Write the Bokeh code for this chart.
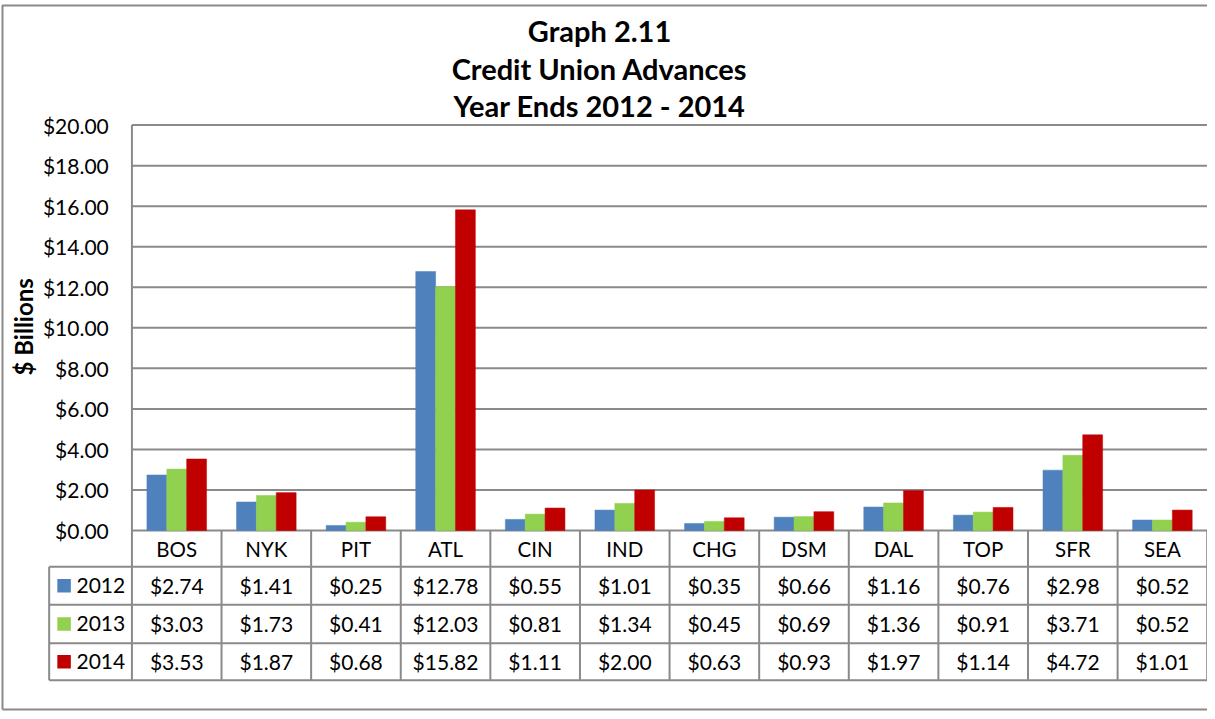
import numpy as np
from bokeh.plotting import figure
from bokeh.models import Range1d
from bokeh.core.properties import value
from bokeh.embed import file_html
from bokeh.resources import INLINE

# ---------------- data ----------------
categories = ["BOS", "NYK", "PIT", "ATL", "CIN", "IND", "CHG", "DSM", "DAL", "TOP", "SFR", "SEA"]
years = ["2012", "2013", "2014"]
v2012 = [2.74, 1.41, 0.25, 12.78, 0.55, 1.01, 0.35, 0.66, 1.16, 0.76, 2.98, 0.52]
v2013 = [3.03, 1.73, 0.41, 12.03, 0.81, 1.34, 0.45, 0.69, 1.36, 0.91, 3.71, 0.52]
v2014 = [3.53, 1.87, 0.68, 15.82, 1.11, 2.00, 0.63, 0.93, 1.97, 1.14, 4.72, 1.01]
series = [v2012, v2013, v2014]
colors = ["#4F81BD", "#92D050", "#C00000"]
y_ticks = [0, 2, 4, 6, 8, 10, 12, 14, 16, 18, 20]
y_tick_labels = ["$%.2f" % t for t in y_ticks]
title_lines = ["Graph 2.11", "Credit Union Advances", "Year Ends 2012 - 2014"]
y_label = "$ Billions"

# ---------------- layout helpers (reference pixels -> data units) ----------------
FIG_W, FIG_H = 1207, 711
REF_W, REF_H = 1215, 719
X0, W = 132.3, 90.2            # left of first category, category width (ref px)
Y0, H = 536.0, 20.5            # y of zero line, ref px per $1


def dx(px):
    return (px - X0) / W


def dy(py):
    return (Y0 - py) / H


FONT = value("Lato")
GRID = "#8A8A8A"

p = figure(width=FIG_W, height=FIG_H, output_backend="svg", toolbar_location=None,
           x_range=Range1d(dx(0), dx(REF_W)), y_range=Range1d(dy(REF_H), dy(0)),
           x_axis_type=None, y_axis_type=None, min_border=0,
           outline_line_color=None, background_fill_color="white", border_fill_color="white")
p.grid.visible = False

# outer chart border
p.multi_line(xs=[[dx(2), dx(2), dx(1300)], [dx(2), dx(1300)]],
             ys=[[dy(717), dy(5), dy(5)], [dy(717), dy(717)]],
             line_color="#8A8A8A", line_width=2)

# horizontal gridlines
n = len(categories)
p.segment(x0=[0] * len(y_ticks), x1=[n] * len(y_ticks), y0=y_ticks, y1=y_ticks,
          line_color=GRID, line_width=2)

# bars
bw = 20.0 / W
for k, (vals, col) in enumerate(zip(series, colors)):
    xs = np.arange(n) + 0.5 + (k - 1) * bw
    p.vbar(x=xs, top=vals, bottom=0, width=bw, fill_color=col, line_color=col, line_width=0.5)

# table geometry (ref px)
row_edges = [536.0, 572.5, 611.0, 650.0, 687.5]
table_left = 49.0
bottom = dy(row_edges[-1])

# vertical lines: value axis + column separators
p.segment(x0=[0], x1=[0], y0=[20], y1=[bottom], line_color=GRID, line_width=2)
p.segment(x0=list(range(1, n + 1)), x1=list(range(1, n + 1)), y0=[0] * n, y1=[bottom] * n,
          line_color=GRID, line_width=2)
p.segment(x0=[dx(table_left)], x1=[dx(table_left)], y0=[dy(row_edges[1])], y1=[bottom],
          line_color=GRID, line_width=2)
hl = row_edges[1:]
p.segment(x0=[dx(table_left)] * len(hl), x1=[n] * len(hl), y0=[dy(e) for e in hl],
          y1=[dy(e) for e in hl], line_color=GRID, line_width=2)

centers = [dy((row_edges[i] + row_edges[i + 1]) / 2) for i in range(4)]

# category labels (header row)
p.text(x=np.arange(n) + 0.5, y=[centers[0]] * n, text=categories, text_font=FONT,
       text_font_size="20.5px", text_align="center", text_baseline="middle", text_color="black")

# table values
for k, vals in enumerate(series):
    p.text(x=np.arange(n) + 0.5, y=[centers[k + 1]] * n, text=["$%.2f" % v for v in vals],
           text_font=FONT, text_font_size="21px", text_align="center", text_baseline="middle",
           text_color="black")

# legend keys in the table
p.scatter(x=[dx(64)] * 3, y=centers[1:], marker="square", size=13.5, fill_color=colors, line_color=None)
p.text(x=[dx(76.5)] * 3, y=centers[1:], text=years, text_font=FONT, text_font_size="21px",
       text_align="left", text_baseline="middle", text_color="black")

# y tick labels
p.text(x=[dx(109)] * len(y_ticks), y=y_ticks, text=y_tick_labels, text_font=FONT,
       text_font_size="21px", text_align="right", text_baseline="middle", text_color="black")

# y axis title
p.text(x=[dx(23)], y=[dy(330)], text=[y_label], angle=np.pi / 2, text_font=FONT,
       text_font_size="24px", text_font_style="bold", text_align="center", text_baseline="middle",
       text_color="black")

# chart title
p.text(x=[dx(603)] * 3, y=[dy(30), dy(68.5), dy(106.5)], text=title_lines, text_font=FONT,
       text_font_size="29px", text_font_style="bold", text_align="center", text_baseline="alphabetic",
       text_color="black")

open("out.html", "w").write(file_html(p, INLINE))
